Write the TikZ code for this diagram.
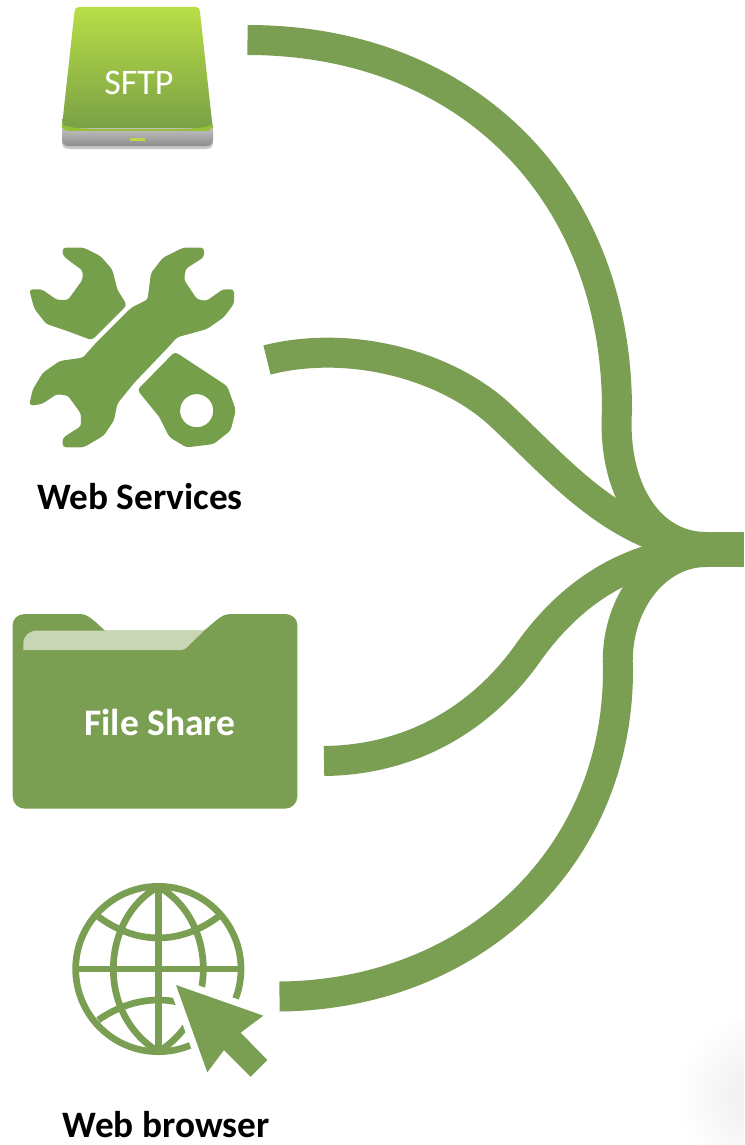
\documentclass[tikz,border=0pt]{standalone}
\usepackage{fontspec}
\setmainfont{Carlito}
\definecolor{leaf}{HTML}{7A9F53}
\definecolor{tabl}{HTML}{C9D6B5}
\definecolor{wrench}{HTML}{769F4C}
\definecolor{drivetop}{HTML}{B8DE46}
\definecolor{drivebot}{HTML}{7AA046}
\definecolor{drivelip}{HTML}{96BE37}
\definecolor{driveled}{HTML}{BBD84A}
\tikzset{
  flow/.style={draw=leaf,line width=30pt,line cap=butt},
  stem/.style={draw=leaf,line width=35pt,line cap=butt},
  caption/.style={font=\fontsize{37.3}{40}\selectfont\bfseries,text=black,inner sep=0pt},
  oncaption/.style={font=\fontsize{37.5}{40}\selectfont\bfseries,text=white,inner sep=0pt},
  grid/.style={draw=leaf,line width=6.7pt},
  spanner/.style={fill=wrench,draw=wrench,line width=1.5pt,rounded corners=3pt},
}
\begin{document}
\begin{tikzpicture}[x=1pt,y=-1pt]
\useasboundingbox (0,0) rectangle (744,1145);
\fill[white] (0,0) rectangle (744,1145);
% faint shadow
\begin{scope}
\clip (660,1020) rectangle (744,1145);
\shade[inner color=black!7,outer color=white] (760,1095) circle (85);
\end{scope}
% connectors
\coordinate (s1) at (247.5,40);
\coordinate (k1) at (617,410);
\coordinate (s2) at (267,360);
\coordinate (k2) at (497,412);
\coordinate (s3) at (324,761);
\coordinate (k3) at (530,650);
\coordinate (s4) at (279.5,996.5);
\coordinate (k4) at (618,670);
\coordinate (hub) at (706,549.5);
\coordinate (hubu) at (706,547);
\coordinate (hubd) at (706,552);
\coordinate (out) at (744,549.5);
\draw[flow] (s1) .. controls (468,40) and (617,192) .. (k1) .. controls (612,490) and (650,547) .. (hubu);
\draw[flow] (s2) .. controls (345,340) and (440,362) .. (k2) .. controls (560,470) and (610,535) .. (hub);
\draw[flow] (s3) .. controls (415,760) and (485,715) .. (k3) .. controls (570,595) and (625,555) .. (hub);
\draw[flow] (s4) .. controls (470,995) and (618,860) .. (k4) .. controls (614,605) and (655,552) .. (hubd);
\draw[stem] (hub) -- (out);
% drive
\fill[black!22] (64,135) -- (211,135) -- (213,143) .. controls (213,147) and (210,149) .. (205,149) -- (70,149) .. controls (65,149) and (62,147) .. (62,143) -- cycle;
\shade[top color=black!22,bottom color=black!45] (62,126) -- (213,126) -- (213,140) arc[start angle=0,end angle=90,radius=6] -- (68,146) arc[start angle=90,end angle=180,radius=6] -- cycle;
\fill[driveled] (130,138) rectangle (145,140.5);
\shade[top color=drivetop,bottom color=drivebot]
 (79,7) -- (196,7) .. controls (199,7) and (200,9) .. (200,12) -- (212.5,126) -- (212.5,128) -- (62,128) -- (62,126) -- (74.5,12) .. controls (74.5,9) and (76,7) .. (79,7) -- cycle;
\fill[drivelip] (62,124) .. controls (70,130) and (100,129) .. (137,129) .. controls (175,129) and (205,130) .. (212.5,124) -- (212.5,126) .. controls (212,129) and (210,131) .. (205,131) -- (70,131) .. controls (65,131) and (62,129) .. (62,126) -- cycle;
\node[inner sep=0pt,text=white,font=\fontsize{36}{40}\selectfont] (sftp) at (139,83) {SFTP};
% wrenches
\begin{scope}[shift={(0,230)},scale=1/3]
\path[spanner] (190,55) -- (250,55) -- (300,80) -- (335,120) -- (350,180) -- (378,225) -- (275,328) -- (200,300) -- (140,280) -- (105,235) -- (90,180) -- (125,180) -- (170,212) -- (205,212) -- (250,150) -- (250,120) -- (215,95) -- (190,75) -- cycle;
\path[spanner] (610,55) -- (550,55) -- (490,85) -- (455,130) -- (445,210) -- (395,235) -- (285,345) -- (250,385) -- (180,395) -- (130,430) -- (100,480) -- (90,525) -- (125,520) -- (170,490) -- (205,495) -- (245,550) -- (245,590) -- (190,625) -- (190,650) -- (250,650) -- (310,615) -- (340,570) -- (350,520) -- (400,458) -- (505,348) -- (530,320) -- (620,295) -- (670,260) -- (700,220) -- (700,180) -- (670,180) -- (620,215) -- (590,210) -- (550,150) -- (555,115) -- (610,80) -- cycle;
\path[spanner,even odd rule] (525,368) -- (680,470) -- (705,540) -- (690,600) -- (640,640) -- (560,650) -- (510,620) -- (480,560) -- (415,480) -- cycle (590,542) circle (52);
\end{scope}
\node[caption] (ws) at (140,497) {Web Services};
% folder
\begin{scope}[shift={(0,600)},scale=1/3]
\fill[leaf] (38,75) .. controls (38,55) and (55,42) .. (75,42) -- (240,42) .. controls (265,42) and (285,65) .. (315,92) -- (612,92) -- (650,60) .. controls (665,48) and (675,42) .. (695,42) -- (855,42) .. controls (875,42) and (892,55) .. (892,75) -- (892,590) .. controls (892,610) and (875,626) .. (855,626) -- (75,626) .. controls (55,626) and (38,610) .. (38,590) -- cycle;
\fill[tabl] (70,150) -- (70,130) .. controls (70,108) and (88,92) .. (110,92) -- (612,92) -- (575,128) .. controls (562,142) and (555,150) .. (540,150) -- cycle;
\end{scope}
\node[oncaption] (fs) at (160,722) {File Share};
% globe
\begin{scope}[shift={(50,870)},scale=1/3]
\draw[grid] (325,297) circle (248);
\draw[grid] (325,45) -- (325,550);
\draw[grid] (75,297) -- (575,297);
\draw[grid] (325,50) .. controls (235,100) and (190,200) .. (190,297) .. controls (190,395) and (235,490) .. (325,545);
\draw[grid] (325,50) .. controls (415,100) and (460,200) .. (460,297) .. controls (460,395) and (415,490) .. (325,545);
\draw[grid] (145,140) .. controls (260,225) and (390,225) .. (505,140);
\draw[grid] (145,450) .. controls (260,370) and (390,370) .. (505,450);
\path[draw=white,line width=14pt,fill=white,line join=round] (378,345) -- (640,437) -- (572,488) -- (652,570) -- (602,620) -- (522,540) -- (472,607) -- cycle;
\fill[leaf] (378,345) -- (640,437) -- (572,488) -- (652,570) -- (602,620) -- (522,540) -- (472,607) -- cycle;
\end{scope}
\node[caption] (wb) at (166,1125) {Web browser};
\end{tikzpicture}
\end{document}
